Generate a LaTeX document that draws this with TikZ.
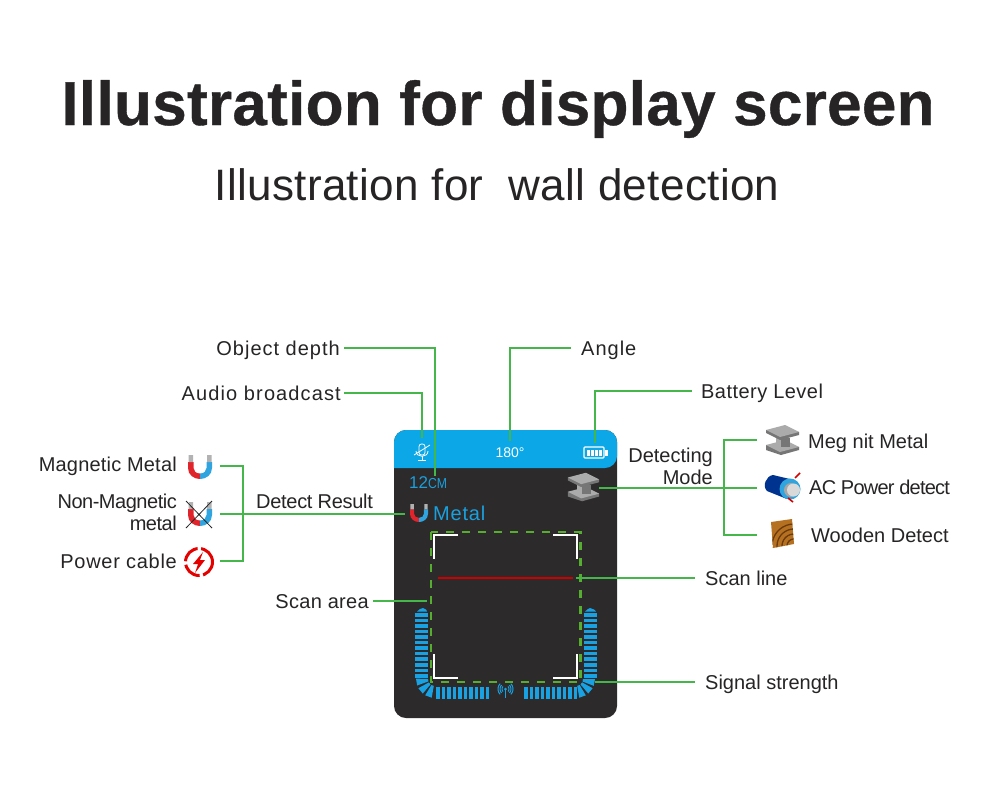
\documentclass[tikz,border=0pt]{standalone}
\usepackage{fontspec}
\setmainfont{Liberation Sans}
\usetikzlibrary{positioning}

\definecolor{leadgreen}{HTML}{45B649}
\definecolor{scangreen}{HTML}{55AE30}
\definecolor{screenblue}{HTML}{0BA7E6}
\definecolor{textblue}{HTML}{1BA0DE}
\definecolor{screendark}{HTML}{2C2A2A}
\definecolor{inkdark}{HTML}{262424}
\definecolor{magred}{HTML}{E0242B}
\definecolor{magblue}{HTML}{2FA4DE}
\definecolor{barblue}{HTML}{18A2E4}
\definecolor{beamlight}{HTML}{ABABAB}
\definecolor{beamdark}{HTML}{767676}
\definecolor{woodbrown}{HTML}{B5711F}
\definecolor{wooddark}{HTML}{6B3A0F}

\newcommand{\spaced}[1]{\addfontfeature{LetterSpace=#1}}

\tikzset{
    tag/.style={inner sep=0pt, text=inkdark, text height=19pt, text depth=4pt, font=\fontsize{20}{20}\selectfont},
    lead/.style={draw=leadgreen, line width=1.8pt},
    corner/.style={draw=white, line width=1.6pt},
    bar/.style={fill=barblue},
    magnet/.pic={
        \fill[magred] (-12,-5) -- (-12,1) .. controls (-12,8) and (-6,12) .. (0,12) -- (0,6.5)
            .. controls (-4,6.5) and (-6.5,4) .. (-6.5,1) -- (-6.5,-5) -- cycle;
        \fill[magblue] (12,-5) -- (12,1) .. controls (12,8) and (6,12) .. (0,12) -- (0,6.5)
            .. controls (4,6.5) and (6.5,4) .. (6.5,1) -- (6.5,-5) -- cycle;
        \fill[gray!60] (-11.5,-12) rectangle (-7,-5) (7,-12) rectangle (11.5,-5);
    },
    ibeam/.pic={
        % flangia bassa, anima, flangia alta
        \fill[beamdark] (-16,5) -- (-16,10) -- (-1,15) -- (17,10) -- (17,7) -- cycle;
        \fill[beamlight] (-16,5) -- (3,0) -- (17,7) -- (-2,12) -- cycle;
        \fill[beamdark] (-6,-2) rectangle (8,7);
        \fill[beamlight] (-6,-2) rectangle (-1,8);
        \fill[beamdark] (-16,-10) -- (-16,-7) -- (-2,0) -- (17,-5) -- (17,-8) -- cycle;
        \fill[beamlight] (-16,-10) -- (3,-15) -- (17,-8) -- (-2,-3) -- cycle;
    }
}

\begin{document}
\begin{tikzpicture}[x=1pt, y=-1pt]

    \useasboundingbox (0,0) rectangle (1000,800);
    \fill[white] (0,0) rectangle (1000,800);

    % Titoli
    \node[text=inkdark, font=\fontsize{62}{62}\selectfont\bfseries\addfontfeature{FakeBold=0.6,LetterSpace=0.5}] (title) at (498,109) {Illustration for display screen};
    \node[text=inkdark, font=\fontsize{44}{44}\selectfont\spaced{0.8}] (subtitle) at (497,185) {Illustration for\ \ wall detection};

    % Schermo
    \fill[screendark, rounded corners=12pt] (394,430) rectangle (617,718);
    \fill[screenblue, rounded corners=12pt] (394,468) -- (394,430) -- (617,430) -- (617,468) [sharp corners] -- cycle;
    \node[text=white, font=\fontsize{14}{14}\selectfont] (angleval) at (510,453) {180°};
    \node[text=textblue, font=\fontsize{17}{17}\selectfont, anchor=west, inner sep=0pt] (depthval) at (409,483) {12\scalebox{0.72}[0.85]{CM}};
    \node[text=textblue, font=\fontsize{20}{20}\selectfont\spaced{4}, anchor=west, inner sep=0pt] (metalval) at (433,513) {Metal};
    \pic[scale=0.75] at (419,513) {magnet};
    \pic[scale=0.95] at (583,487) {ibeam};

    % Microfono barrato
    \draw[white, line width=0.8pt, rounded corners=2.5pt] (419,444) rectangle (425,455);
    \draw[white, line width=0.8pt] (416,451) .. controls (416,458) and (428,458) .. (428,451);
    \draw[white, line width=0.8pt] (422,456) -- (422,460) (418,460) -- (426,460);
    \draw[white, line width=0.8pt] (414,455) -- (430,445);

    % Batteria
    \draw[white, line width=1.2pt, rounded corners=1pt] (584,447) rectangle (604,458);
    \fill[white] (604.5,449.5) rectangle (608,455.5);
    \foreach \i in {0,...,3}
        \fill[white] (586.5+4*\i,449.5) rectangle (589.5+4*\i,455.5);

    % Area di scansione
    \draw[scangreen, line width=2.4pt, dash pattern=on 8pt off 8pt] (431,532) rectangle (580.5,682);
    \draw[corner] (458,535) -- (434,535) -- (434,559);
    \draw[corner] (553,535) -- (577,535) -- (577,559);
    \draw[corner] (458,678) -- (434,678) -- (434,654);
    \draw[corner] (553,678) -- (577,678) -- (577,654);
    \draw[red!80!black, line width=1.8pt] (438,578) -- (573,578);

    % Barre del segnale
    \foreach \i in {0,...,11} {
        \fill[bar] (415,613+5.55*\i) rectangle (428,616.6+5.55*\i);
        \fill[bar] (584,613+5.55*\i) rectangle (596.5,616.6+5.55*\i);
    }
    \fill[bar] (417,611.5) -- (420,609) -- (423,608) -- (426,609.5) -- (427,611.5) -- cycle;
    \fill[bar] (585,611.5) -- (588,609) -- (590,608) -- (594,609.5) -- (596,611.5) -- cycle;
    \foreach \i in {0,...,9} {
        \fill[bar] (436+5.5*\i,687) rectangle (439.5+5.5*\i,699);
        \fill[bar] (524+5.5*\i,687) rectangle (527.5+5.5*\i,699);
    }
    \foreach \a in {160,130,100}
        \fill[bar, shift={(435,679)}] (\a:7) -- (\a:19) -- (\a+21:19) -- (\a+21:7) -- cycle;
    \foreach \a in {0,29,59}
        \fill[bar, shift={(576,679)}] (\a:7) -- (\a:19) -- (\a+21:19) -- (\a+21:7) -- cycle;

    % Antenna
    \fill[bar] (505.5,689) circle (1.5pt);
    \draw[barblue, line width=1pt] (505.5,689) -- (505.5,698);
    \foreach \r in {3.5,5.5,7.5} {
        \draw[barblue, line width=1pt, shift={(505.5,689)}] plot[domain=135:225, samples=9, smooth] (\x:\r);
        \draw[barblue, line width=1pt, shift={(505.5,689)}] plot[domain=-45:45, samples=9, smooth] (\x:\r);
    }

    % Etichette in alto
    \node[tag, font=\fontsize{20}{20}\selectfont\spaced{5}, anchor=east] (depth) at (340,348) {Object depth};
    \node[tag, font=\fontsize{20}{20}\selectfont\spaced{5.6}, anchor=east] (audio) at (341,393) {Audio broadcast};
    \node[tag, font=\fontsize{20}{20}\selectfont\spaced{5}, anchor=west] (angle) at (581,348) {Angle};
    \node[tag, font=\fontsize{20}{20}\selectfont\spaced{2.3}, anchor=west] (battery) at (701,391) {Battery Level};
    \coordinate (depthEnd) at (435,476);
    \coordinate (audioEnd) at (422,438);
    \coordinate (angleEnd) at (510,441);
    \coordinate (batteryEnd) at (595,443);
    \draw[lead] ([xshift=4pt]depth.east) -| (depthEnd);
    \draw[lead] ([xshift=3pt]audio.east) -| (audioEnd);
    \draw[lead] ([xshift=-10pt]angle.west) -| (angleEnd);
    \draw[lead] ([xshift=-9pt]battery.west) -| (batteryEnd);

    % Modi di rilevamento
    \node[tag, align=right, anchor=east, text height=, text depth=, font=\fontsize{20}{22}\selectfont] (mode) at (713,466) {Detecting\\Mode};
    \node[tag, anchor=west] (megnit) at (808,441) {Meg nit Metal};
    \node[tag, font=\fontsize{20}{20}\selectfont\spaced{-3.9}, anchor=west] (acpower) at (809,487) {AC Power detect};
    \node[tag, anchor=west] (wooden) at (811,535) {Wooden Detect};
    \coordinate (modeBeam) at (599,488);
    \coordinate (hubMode) at (724,488);
    \coordinate (megEnd) at (757,440);
    \coordinate (acEnd) at (757,488);
    \coordinate (woodEnd) at (757,535);
    \draw[lead] (modeBeam) -- (acEnd);
    \draw[lead] (megEnd) -| (hubMode) |- (woodEnd);
    \pic at (782,440) {ibeam};

    % Cavo AC
    \fill[blue!45!black!80!cyan] (773,475) .. controls (766,476) and (762,486) .. (767,491) -- (787,499) -- (794,480) -- cycle;
    \fill[magblue] (790,489) circle (10.5pt);
    \fill[gray!70] (791,490) circle (7pt);
    \fill[gray!30] (793.5,490) circle (6.5pt);
    \draw[red!85!black, line width=1.6pt] (795,478) -- (800,473) (788,498) -- (793,502);

    % Legno
    \begin{scope}
        \clip (771,522) -- (792,519) -- (794,544) -- (773,548) -- cycle;
        \fill[woodbrown] (765,515) rectangle (800,552);
        \foreach \r in {7,12,17,22}
            \draw[wooddark, line width=1.3pt, shift={(794,546)}] plot[domain=170:280, samples=12, smooth] (\x:\r);
    \end{scope}

    % Risultato
    \node[tag, font=\fontsize{20}{20}\selectfont\spaced{1}, anchor=east] (magmetal) at (177,464) {Magnetic Metal};
    \node[tag, align=right, anchor=east, text height=, text depth=, font=\fontsize{20}{22}\selectfont\spaced{-2.4}] (nonmag) at (177,512) {Non-Magnetic\\metal};
    \node[tag, font=\fontsize{20}{20}\selectfont\spaced{3.5}, anchor=east] (powercable) at (177,561) {Power cable};
    \node[tag, font=\fontsize{20}{20}\selectfont\spaced{-1.5}, anchor=west] (result) at (256,501) {Detect Result};
    \pic at (200,467) {magnet};
    \pic at (200,514) {magnet};
    \draw[inkdark, line width=0.8pt] (186,528) -- (212,501) (186,501) -- (212,528);
    \draw[red!90!black, line width=3pt, dash pattern=on 19pt off 3.5pt] (199,562) circle (13.5pt);
    \fill[red!90!black] (203,552) -- (193,564) -- (198,564) -- (195,573) -- (205,560) -- (200,560) -- cycle;
    \coordinate (magEnd) at (220,466);
    \coordinate (nonEnd) at (220,514);
    \coordinate (powerEnd) at (220,561);
    \coordinate (hubResult) at (243,514);
    \coordinate (metalEnd) at (405,514);
    \draw[lead] (nonEnd) -- (metalEnd);
    \draw[lead] (magEnd) -| (hubResult) |- (powerEnd);

    % Linee in basso
    \node[tag, font=\fontsize{20}{20}\selectfont\spaced{1.6}, anchor=east] (scanarea) at (369,601) {Scan area};
    \node[tag, anchor=west] (scanline) at (705,578) {Scan line};
    \node[tag, anchor=west] (signal) at (705,682) {Signal strength};
    \coordinate (areaEnd) at (427,601);
    \coordinate (lineEnd) at (576,578);
    \coordinate (signalEnd) at (595,682);
    \draw[lead] ([xshift=4pt]scanarea.east) -- (areaEnd);
    \draw[lead] ([xshift=-10pt]scanline.west) -- (lineEnd);
    \draw[lead] ([xshift=-10pt]signal.west) -- (signalEnd);

\end{tikzpicture}
\end{document}
